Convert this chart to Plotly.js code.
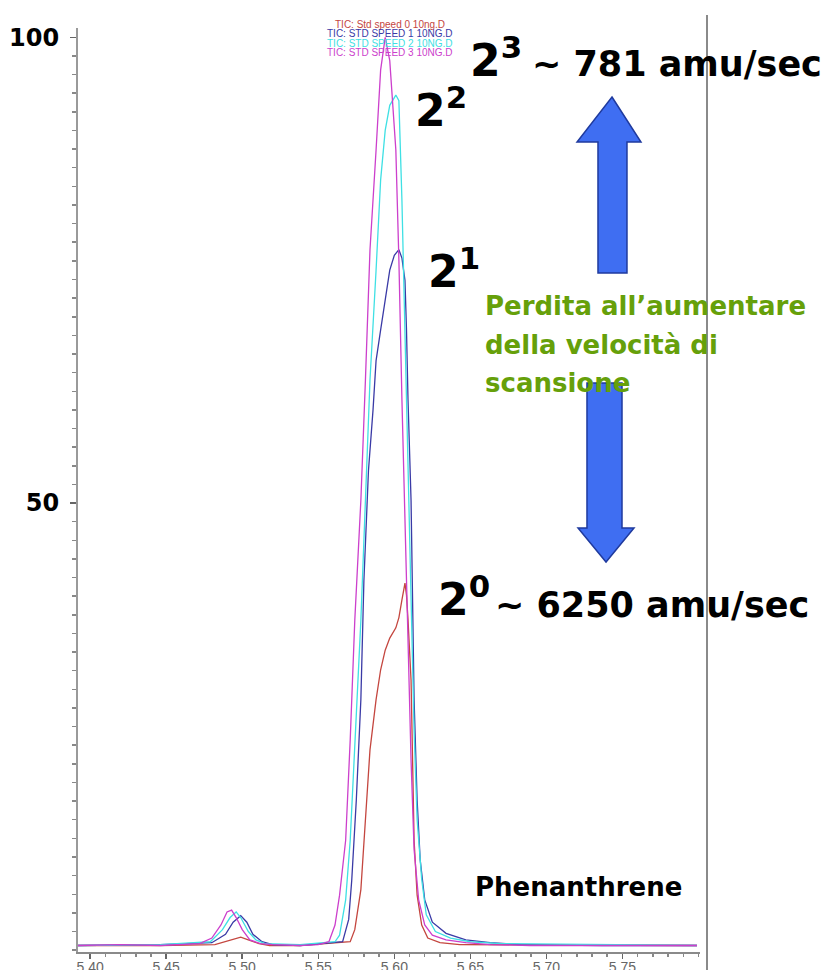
<!DOCTYPE html>
<html>
<head>
<meta charset="utf-8">
<script src="https://cdn.plot.ly/plotly-3.0.1.min.js"></script>
<style>html,body{margin:0;padding:0;background:#fff}#chart{width:831px;height:970px}</style>
</head>
<body>
<div id="chart"></div>
<script>
// Retention time (min) and relative abundance (%)
const timeSpeed0 = [5.392,5.446,5.482,5.491,5.496,5.499,5.504,5.511,5.518,5.538,5.571,5.574,5.578,5.581,5.584,5.588,5.591,5.594,5.597,5.601,5.603,5.605,5.607,5.608,5.609,5.611,5.612,5.613,5.615,5.618,5.622,5.630,5.643,5.736,5.799];
const abundSpeed0 = [2.5,2.5,2.6,3.0,3.3,3.4,3.1,2.7,2.5,2.5,2.9,4.2,8.5,16.0,23.5,28.9,32.1,34.2,35.5,36.6,37.7,39.6,41.4,40.1,37.5,31.0,22.4,13.8,7.9,4.7,3.3,2.8,2.6,2.5,2.5];

const timeSpeed1 = [5.392,5.446,5.480,5.489,5.494,5.499,5.503,5.507,5.513,5.520,5.538,5.566,5.570,5.572,5.575,5.578,5.580,5.583,5.586,5.588,5.591,5.594,5.597,5.600,5.603,5.605,5.607,5.608,5.609,5.611,5.612,5.613,5.615,5.617,5.620,5.625,5.634,5.647,5.663,5.683,5.736,5.799];
const abundSpeed1 = [2.5,2.6,2.8,3.7,5.0,5.7,5.0,3.7,2.9,2.6,2.5,2.9,5.3,9.5,18.1,28.9,41.7,53.5,60.0,65.3,68.6,71.8,75.0,76.6,77.2,76.3,73.9,68.6,61.1,50.3,39.6,28.9,18.1,11.7,7.4,5.0,3.8,3.1,2.8,2.6,2.5,2.5];

const timeSpeed2 = [5.392,5.446,5.479,5.487,5.492,5.496,5.499,5.504,5.509,5.515,5.538,5.561,5.564,5.568,5.571,5.574,5.578,5.581,5.584,5.588,5.591,5.594,5.597,5.601,5.603,5.605,5.607,5.609,5.611,5.613,5.615,5.618,5.621,5.627,5.637,5.650,5.670,5.736,5.799];
const abundSpeed2 = [2.5,2.6,2.9,4.2,5.5,6.1,5.5,4.0,3.1,2.7,2.6,2.9,3.6,7.4,13.8,24.6,37.4,50.3,63.2,75.0,84.7,90.0,92.7,93.8,93.2,82.5,68.6,54.6,39.6,25.6,16.0,9.6,5.8,4.0,3.3,2.9,2.7,2.6,2.5];

const timeSpeed3 = [5.392,5.420,5.446,5.472,5.480,5.486,5.490,5.493,5.496,5.500,5.505,5.512,5.520,5.538,5.550,5.557,5.561,5.564,5.568,5.571,5.574,5.578,5.581,5.584,5.588,5.591,5.594,5.597,5.601,5.603,5.605,5.607,5.609,5.611,5.613,5.616,5.620,5.625,5.634,5.647,5.663,5.689,5.736,5.768,5.799];
const abundSpeed3 = [2.5,2.6,2.5,2.7,3.3,4.7,6.1,6.3,5.5,4.2,3.1,2.7,2.6,2.5,2.6,2.9,4.7,7.9,13.8,24.6,37.4,50.3,63.2,77.2,87.9,96.5,100.0,97.5,87.9,76.1,61.1,47.1,34.2,22.4,12.8,7.4,4.7,3.6,3.1,2.8,2.6,2.5,2.5,2.5,2.5];

const seriesNames = ["TIC: Std speed 0 10ng.D","TIC: STD SPEED 1 10NG.D","TIC: STD SPEED 2 10NG.D","TIC: STD SPEED 3 10NG.D"];
const seriesColors = ["#c4463f","#3a3aa6","#3fe0e4","#cc3fcc"];

const xTickVals = [5.40,5.45,5.50,5.55,5.60,5.65,5.70,5.75];
const xTickText = ["5.40","5.45","5.50","5.55","5.60","5.65","5.70","5.75"];
const yTickVals = [50,100];
const yTickText = ["50","100"];

const times = [timeSpeed0,timeSpeed1,timeSpeed2,timeSpeed3];
const abunds = [abundSpeed0,abundSpeed1,abundSpeed2,abundSpeed3];

const traces = times.map((t,i)=>({
  x:t, y:abunds[i], type:'scatter', mode:'lines', name:seriesNames[i],
  line:{color:seriesColors[i], width:1.3}, hoverinfo:'skip'
}));

// helpers: pixel position in the 831x970 page -> paper coords of plot area
const L=78, R=700, T=28, B=952;
const px = v => (v-L)/(R-L);
const py = v => (B-v)/(B-T);

const FAM = 'DejaVu Sans, Liberation Sans, Arial';
const bigFont = {family:FAM, size:44, color:'#000', weight:'bold'};
const midFont = {family:FAM, size:35, color:'#000', weight:'bold'};
const greenFont = {family:FAM, size:26, color:'#66a00a', weight:'bold'};
const legFont = c => ({family:'Liberation Sans Narrow, Liberation Sans, Arial', size:10, color:c});

function ann(text, x, y, font, xanchor){
  return {text, x:px(x), y:py(y), xref:'paper', yref:'paper', xanchor:xanchor||'left', yanchor:'middle', showarrow:false, font};
}

const annotations = [
  ann(seriesNames[0], 390, 25, legFont(seriesColors[0]), 'center'),
  ann(seriesNames[1], 390, 34, legFont(seriesColors[1]), 'center'),
  ann(seriesNames[2], 390, 43, legFont(seriesColors[2]), 'center'),
  ann(seriesNames[3], 390, 52, legFont(seriesColors[3]), 'center'),
  ann('2<sup>3</sup>', 468, 58, bigFont),
  ann('~ 781 amu/sec', 530, 64, midFont),
  ann('2<sup>2</sup>', 413, 108, bigFont),
  ann('2<sup>1</sup>', 426, 268, bigFont),
  ann('2<sup>0</sup>', 436, 596, bigFont),
  ann('~ 6250 amu/sec', 493, 605, midFont),
  ann('Perdita all\u2019aumentare', 483, 306, greenFont),
  ann('della velocità di', 483, 345, greenFont),
  ann('scansione', 483, 383, greenFont),
  ann('Phenanthrene', 473, 887, {family:FAM, size:26, color:'#000', weight:'bold'})
];

function pathOf(pts){
  return 'M ' + pts.map(p=>px(p[0]).toFixed(4)+','+py(p[1]).toFixed(4)).join(' L ') + ' Z';
}
const upArrow = [[612,97],[641,142],[627,142],[627,273],[598,273],[598,142],[577,142]];
const downArrow = [[587,383],[622,383],[622,528],[634,528],[606,562],[578,528],[587,528]];

const shapes = [
  {type:'path', xref:'paper', yref:'paper', path:pathOf(upArrow), fillcolor:'#3f6ef2', line:{color:'#1f3a9e', width:1.5}, layer:'above'},
  {type:'path', xref:'paper', yref:'paper', path:pathOf(downArrow), fillcolor:'#3f6ef2', line:{color:'#1f3a9e', width:1.5}, layer:'above'},
  {type:'line', xref:'paper', yref:'paper', x0:px(707), x1:px(707), y0:py(972), y1:py(15), line:{color:'#8a8a8a', width:2}}
];

const layout = {
  width:831, height:970,
  margin:{l:L, r:831-R, t:T, b:970-B, pad:0},
  paper_bgcolor:'#fff', plot_bgcolor:'#fff',
  showlegend:false,
  xaxis:{range:[5.392,5.801], showgrid:false, zeroline:false, showline:true, linecolor:'#8a8a8a', linewidth:2,
    ticks:'outside', ticklen:5, tickcolor:'#666', tickwidth:1.5,
    tickmode:'array', tickvals:xTickVals, ticktext:xTickText, ticklabelstandoff:-4,
    tickfont:{family:'Liberation Sans, Arial', size:14, color:'#666'},
    minor:{dtick:0.01, ticklen:3, tickcolor:'#888', ticks:'outside'}, automargin:false, fixedrange:true},
  yaxis:{range:[1.8,101.0], showgrid:false, zeroline:false, showline:true, linecolor:'#9a9a9a', linewidth:2,
    ticks:'outside', ticklen:6, tickcolor:'#666', tickwidth:1.5,
    tickmode:'array', tickvals:yTickVals, ticktext:yTickText, ticklabelstandoff:6,
    tickfont:{family:FAM, size:24, color:'#000', weight:'bold'},
    minor:{dtick:2, ticklen:4, tickcolor:'#888', ticks:'outside'}, automargin:false, fixedrange:true},
  annotations, shapes
};

Plotly.newPlot('chart', traces, layout, {displayModeBar:false, staticPlot:true});
</script>
</body>
</html>
